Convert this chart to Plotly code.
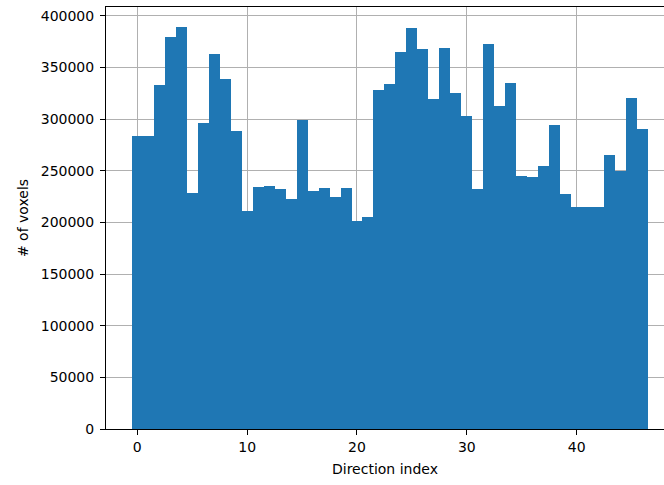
import plotly.graph_objects as go

# Voxel counts per direction index
directions = list(range(47))
voxels = [284000, 284000, 333000, 379000, 389000, 228000, 296000, 363000, 339000, 288000,
          211000, 234000, 235000, 232000, 223000, 299000, 230000, 233000, 225000, 233000,
          201000, 205000, 328000, 334000, 365000, 388000, 368000, 319000, 369000, 325000,
          303000, 232000, 373000, 313000, 335000, 245000, 244000, 255000, 294000, 227000,
          215000, 215000, 215000, 265000, 250000, 320000, 290000]

x_ticks = [0, 10, 20, 30, 40]
y_ticks = [0, 50000, 100000, 150000, 200000, 250000, 300000, 350000, 400000]

fig = go.Figure()
fig.add_trace(go.Bar(
    x=directions, y=voxels, width=1,
    marker=dict(color="#1f77b4", line=dict(width=0)),
))

ymax = max(voxels) * 1.05
axis_common = dict(
    showline=True, linecolor="black", linewidth=1,
    ticks="outside", ticklen=5, tickwidth=1, tickcolor="black",
    showgrid=True, gridcolor="#b0b0b0", gridwidth=1,
    zeroline=False, layer="above traces", automargin=False,
    tickfont=dict(size=14, color="black"),
)
fig.update_xaxes(range=[-2.85, 47.95], tickvals=x_ticks, mirror=True,
                 title=dict(text="Direction index", font=dict(size=14, color="black"), standoff=10),
                 **axis_common)
fig.update_yaxes(range=[0, ymax], tickvals=y_ticks, tickformat="d", mirror=False,
                 ticklabelstandoff=3,
                 title=dict(text="# of voxels", font=dict(size=14, color="black"), standoff=8),
                 **axis_common)
fig.update_layout(
    width=664, height=485,
    margin=dict(l=106, r=0, t=7, b=56),
    paper_bgcolor="white", plot_bgcolor="white",
    font=dict(family="DejaVu Sans", color="black"),
    bargap=0, showlegend=False,
)
# drop the page's default body margin so the figure sits at the window corner
fig.write_html("out.html", config={"displayModeBar": False},
               post_script="document.body.style.margin='0';")
